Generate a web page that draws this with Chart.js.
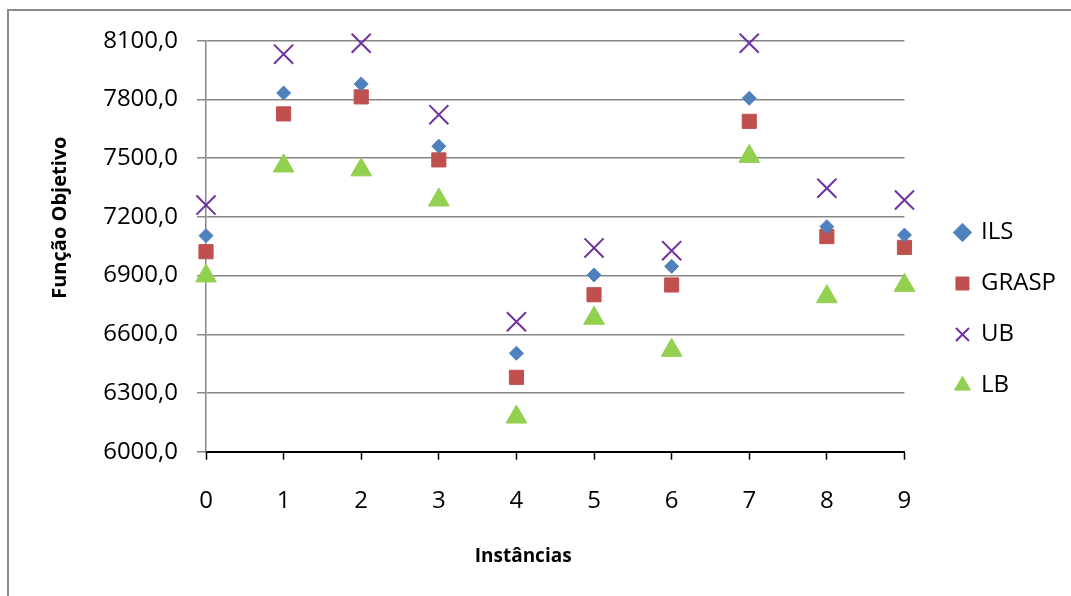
<!DOCTYPE html>
<html>
<head>
<meta charset="utf-8">
<script src="https://cdn.jsdelivr.net/npm/chart.js@4/dist/chart.umd.min.js"></script>
<style>
  html, body { margin: 0; padding: 0; background: #fff; overflow: hidden; }
  #wrap { position: absolute; left: 0; top: 0; width: 1071px; height: 596px; }
  #frame { position: absolute; left: 7px; top: 9px; width: 1200px; height: 800px; border: 2px solid #8c8c8c; box-sizing: border-box; }
</style>
</head>
<body>
<div id="frame"></div>
<div id="wrap"><canvas id="c"></canvas></div>
<script>
const categories = ['0', '1', '2', '3', '4', '5', '6', '7', '8', '9'];
const seriesNames = ['ILS', 'GRASP', 'UB', 'LB'];
const ilsValues   = [7104, 7833, 7879, 7561, 6503, 6903, 6947, 7806, 7150, 7107];
const graspValues = [7022, 7726, 7813, 7491, 6380, 6802, 6852, 7688, 7099, 7044];
const ubValues    = [7260, 8031, 8087, 7722, 6664, 7041, 7027, 8087, 7346, 7286];
const lbValues    = [6898, 7460, 7440, 7286, 6177, 6682, 6518, 7509, 6792, 6850];
const yMin = 6000, yMax = 8100, yStep = 300;
const xTitle = 'Instâncias';
const yTitle = 'Função Objetivo';

const FONT = '"Open Sans", "Liberation Sans", sans-serif';

new Chart(document.getElementById('c'), {
  type: 'line',
  data: {
    labels: categories,
    datasets: [
      { label: seriesNames[0], data: ilsValues, showLine: false, clip: false,
        pointStyle: 'rectRot', pointRadius: 7, borderWidth: 1,
        backgroundColor: '#4F81BD', borderColor: '#4F81BD' },
      { label: seriesNames[1], data: graspValues, showLine: false, clip: false,
        pointStyle: 'rect', pointRadius: 10, borderWidth: 1,
        backgroundColor: '#C0504D', borderColor: '#C0504D' },
      { label: seriesNames[2], data: ubValues, showLine: false, clip: false,
        pointStyle: 'crossRot', pointRadius: 13.5, borderWidth: 2,
        backgroundColor: '#7030A0', borderColor: '#7030A0' },
      { label: seriesNames[3], data: lbValues, showLine: false, clip: false,
        pointStyle: 'triangle', pointRadius: 12, borderWidth: 1,
        backgroundColor: '#92D050', borderColor: '#92D050' }
    ]
  },
  options: {
    responsive: true,
    maintainAspectRatio: false,
    animation: false,
    events: [],
    layout: { padding: { left: 0, right: 5, top: 22, bottom: 0 } },
    plugins: {
      tooltip: { enabled: false },
      legend: {
        position: 'right',
        labels: {
          usePointStyle: true,
          boxWidth: 13,
          boxHeight: 13,
          padding: 27,
          color: '#000',
          font: { family: FONT, size: 24 }
        }
      }
    },
    scales: {
      x: {
        type: 'category',
        offset: false,
        afterFit: s => { s.height = 144.3; },
        border: { display: true, color: '#000', width: 2 },
        grid: { display: true, drawOnChartArea: false, drawTicks: true, tickLength: 8, tickColor: '#000', tickWidth: 1.5, color: '#000' },
        ticks: { color: '#000', padding: 27, maxRotation: 0, font: { family: FONT, size: 24 } },
        title: { display: true, text: xTitle + '\u00A0'.repeat(13), color: '#000', padding: { top: 0, bottom: 28 }, font: { family: FONT, size: 19, weight: 'bold' } }
      },
      x2: {
        type: 'linear',
        position: 'top',
        afterFit: s => { s.height = 18.7; },
        border: { display: false },
        grid: { display: false },
        ticks: { display: false }
      },
      y: {
        type: 'linear',
        min: yMin, max: yMax,
        afterFit: s => { s.width = 206; },
        border: { display: true, color: '#868686', width: 1.5 },
        grid: { color: '#868686', lineWidth: 1.5, tickLength: 9, tickColor: '#868686' },
        ticks: { stepSize: yStep, color: '#000', padding: 19, font: { family: FONT, size: 24 },
                 callback: v => v.toFixed(1).replace('.', ',') },
        title: { display: true, text: '\u00A0'.repeat(11) + yTitle, color: '#000', padding: { top: 48, bottom: 0 }, font: { family: FONT, size: 20, weight: 'bold' } }
      },
      y2: {
        type: 'linear',
        position: 'right',
        afterFit: s => { s.width = 24.5; },
        border: { display: false },
        grid: { display: false },
        ticks: { display: false }
      }
    }
  }
});
</script>
</body>
</html>
